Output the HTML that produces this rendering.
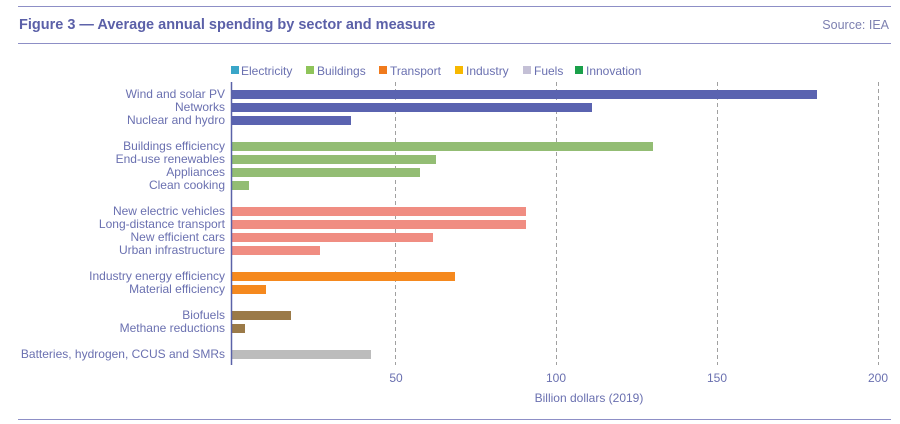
<!DOCTYPE html>
<html><head><meta charset="utf-8"><style>
html,body{margin:0;padding:0;background:#fff;}
svg{display:block;font-family:"Liberation Sans",sans-serif;}
</style></head><body>
<svg width="900" height="424" viewBox="0 0 900 424" xmlns="http://www.w3.org/2000/svg">
<line x1="18" y1="6.5" x2="891" y2="6.5" stroke="#8d8fc6" stroke-width="1"/>
<line x1="18" y1="43.5" x2="891" y2="43.5" stroke="#8d8fc6" stroke-width="1"/>
<line x1="18" y1="419.5" x2="891" y2="419.5" stroke="#8d8fc6" stroke-width="1"/>
<text x="19" y="29" font-size="14.5" font-weight="bold" fill="#5b60a8">Figure 3 — Average annual spending by sector and measure</text>
<text x="889" y="29" font-size="12.5" fill="#7d80b0" text-anchor="end">Source: IEA</text>
<g font-size="12" fill="#6a70b0">
<rect x="231" y="66" width="8" height="8" fill="#3aa6c8"/><text x="241" y="75">Electricity</text>
<rect x="306" y="66" width="8" height="8" fill="#8fc45a"/><text x="317" y="75">Buildings</text>
<rect x="379" y="66" width="8" height="8" fill="#f07a1c"/><text x="390" y="75">Transport</text>
<rect x="455" y="66" width="8" height="8" fill="#f7b800"/><text x="466" y="75">Industry</text>
<rect x="523" y="66" width="8" height="8" fill="#c4c0d6"/><text x="534" y="75">Fuels</text>
<rect x="575" y="66" width="8" height="8" fill="#1aa04a"/><text x="586" y="75">Innovation</text>
</g>
<g stroke="#a0a0a0" stroke-width="1" stroke-dasharray="4,3">
<line x1="395.5" y1="82" x2="395.5" y2="365"/>
<line x1="556.5" y1="82" x2="556.5" y2="365"/>
<line x1="717.5" y1="82" x2="717.5" y2="365"/>
<line x1="878.5" y1="82" x2="878.5" y2="365"/>
</g>
<g>
<rect x="232" y="90" width="585" height="9" fill="#5a63b0"/>
<rect x="232" y="103" width="360" height="9" fill="#5a63b0"/>
<rect x="232" y="116" width="119" height="9" fill="#5a63b0"/>
<rect x="232" y="142" width="421" height="9" fill="#93bd74"/>
<rect x="232" y="155" width="204" height="9" fill="#93bd74"/>
<rect x="232" y="168" width="188" height="9" fill="#93bd74"/>
<rect x="232" y="181" width="17" height="9" fill="#93bd74"/>
<rect x="232" y="207" width="294" height="9" fill="#f08d82"/>
<rect x="232" y="220" width="294" height="9" fill="#f08d82"/>
<rect x="232" y="233" width="201" height="9" fill="#f08d82"/>
<rect x="232" y="246" width="88" height="9" fill="#f08d82"/>
<rect x="232" y="272" width="223" height="9" fill="#f5891e"/>
<rect x="232" y="285" width="34" height="9" fill="#f5891e"/>
<rect x="232" y="311" width="59" height="9" fill="#9b7a48"/>
<rect x="232" y="324" width="13" height="9" fill="#9b7a48"/>
<rect x="232" y="350" width="139" height="9" fill="#bcbcbc"/>
</g>
<line x1="231.5" y1="82" x2="231.5" y2="365" stroke="#5a62a8" stroke-width="1.5"/>
<g font-size="12" fill="#6a70b0" text-anchor="end">
<text x="225" y="98">Wind and solar PV</text>
<text x="225" y="111">Networks</text>
<text x="225" y="124">Nuclear and hydro</text>
<text x="225" y="150">Buildings efficiency</text>
<text x="225" y="163">End-use renewables</text>
<text x="225" y="176">Appliances</text>
<text x="225" y="189">Clean cooking</text>
<text x="225" y="215">New electric vehicles</text>
<text x="225" y="228">Long-distance transport</text>
<text x="225" y="241">New efficient cars</text>
<text x="225" y="254">Urban infrastructure</text>
<text x="225" y="280">Industry energy efficiency</text>
<text x="225" y="293">Material efficiency</text>
<text x="225" y="319">Biofuels</text>
<text x="225" y="332">Methane reductions</text>
<text x="225" y="358">Batteries, hydrogen, CCUS and SMRs</text>
</g>
<g font-size="12" fill="#6a70b0" text-anchor="middle">
<text x="396" y="382">50</text>
<text x="556" y="382">100</text>
<text x="717" y="382">150</text>
<text x="878" y="382">200</text>
<text x="589" y="402">Billion dollars (2019)</text>
</g>
</svg>
</body></html>
